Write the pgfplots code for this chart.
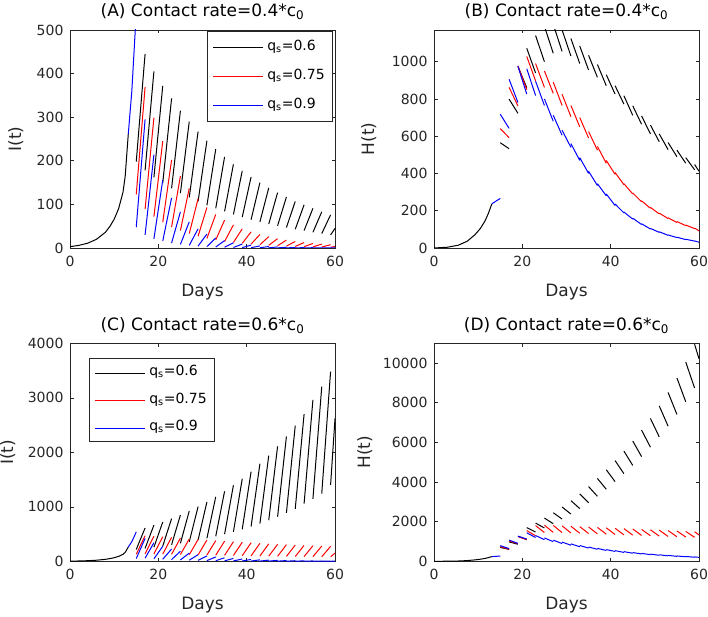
\documentclass[border=0pt]{standalone}
\usepackage{pgfplots}
\pgfplotsset{compat=1.18}
\usepackage{fontspec}
\setmainfont{DejaVu Sans}
\definecolor{mgray}{rgb}{0.15,0.15,0.15}
\definecolor{mred}{rgb}{1,0,0}
\definecolor{mblue}{rgb}{0,0,1}
\definecolor{mblack}{rgb}{0,0,0}
\definecolor{lblack}{rgb}{0.01,0.01,0.01}
\definecolor{lred}{rgb}{0.99,0.01,0.01}
\definecolor{lblue}{rgb}{0.01,0.01,0.99}
\pgfplotsset{
 panel/.style={
  scale only axis, width=265pt, height=218pt,
  xmin=0, xmax=60, xtick={0,20,40,60}, ymin=0,
  axis line style={mgray, line width=0.6pt},
  tick style={mgray, line width=0.6pt},
  major tick length=3.5pt,
  tick align=inside,
  ticklabel style={font=\fontsize{14}{14}\selectfont, text=mgray},
  yticklabel style={xshift=-3pt},
  xticklabel style={yshift=-4.5pt},
  /pgf/number format/assume math mode=true,
  /pgf/number format/set thousands separator={},
  scaled y ticks=false,
  xlabel={Days},
  xlabel style={at={(axis description cs:0.5,0)}, anchor=base, yshift=-48.5pt, font=\fontsize{17}{17}\selectfont, text=mgray},
  title style={at={(axis description cs:0.5,1)}, anchor=base, yshift=7pt, font=\fontsize{17}{17}\selectfont, text=black},
  unbounded coords=jump,
  every axis plot/.append style={line width=1pt},
  legend cell align=left,
  legend style={draw=mgray, line width=0.6pt, font=\fontsize{14}{14}\selectfont,
    inner xsep=6pt, inner ysep=7pt, row sep=11pt, column sep=2pt,
    nodes={inner sep=2pt, text height=10pt, text depth=4pt}},
 }
}
\newcommand{\legendrows}{%
\addlegendimage{legend image code/.code={\node[inner sep=0pt, text height=1pt, text depth=0pt, anchor=west] at (0pt,0pt) {\textcolor{lblack}{\rule[-0.5pt]{50pt}{1pt}}};}}\addlegendentry{q\textsubscript{s}=0.6}
\addlegendimage{legend image code/.code={\node[inner sep=0pt, text height=1pt, text depth=0pt, anchor=west] at (0pt,0pt) {\textcolor{lred}{\rule[-0.5pt]{50pt}{1pt}}};}}\addlegendentry{q\textsubscript{s}=0.75}
\addlegendimage{legend image code/.code={\node[inner sep=0pt, text height=1pt, text depth=0pt, anchor=west] at (0pt,0pt) {\textcolor{lblue}{\rule[-0.5pt]{50pt}{1pt}}};}}\addlegendentry{q\textsubscript{s}=0.9}}
\begin{document}
\begin{tikzpicture}
\useasboundingbox (0,0) rectangle (708pt,616pt);
% ---------------- (A)
\begin{axis}[panel, at={(70pt,368pt)}, anchor=south west,
  ymax=500, ytick={0,100,200,300,400,500},
  title={(A) Contact rate=0.4*c\textsubscript{0}},
  ylabel={I(t)},
  ylabel style={at={(axis description cs:-0.184,0.5)}, anchor=base, font=\fontsize{17}{17}\selectfont, text=mgray},
  legend style={at={(axis description cs:0.9925,0.9955)}, anchor=north east}]
\legendrows
\addplot[mblack, forget plot] coordinates {(0,3) (2,6) (4,11) (6,20) (8,36) (9,49) (10,66) (11,90) (12,128) (12.5,165) (13.2,262)};
\addplot[mblue, forget plot] coordinates {(13.2,262) (14,360) (15,540)};
\addplot[mblack, forget plot] coordinates {
(15,198)(17,445)(17,nan)(17,178)(19,405)(19,nan)(19,162)(21,372)(21,nan)(21,149)(23,343)(23,nan)
(23,137)(25,315)(25,nan)(25,126)(27,290)(27,nan)(27,116)(29,267)(29,nan)(29,107)(31,246)(31,nan)
(31,98)(33,227)(33,nan)(33,91)(35,209)(35,nan)(35,84)(37,192)(37,nan)(37,77)(39,177)(39,nan)
(39,71)(41,163)(41,nan)(41,65)(43,150)(43,nan)(43,60)(45,138)(45,nan)(45,55)(47,127)(47,nan)
(47,51)(49,117)(49,nan)(49,47)(51,107)(51,nan)(51,43)(53,99)(53,nan)(53,40)(55,91)(55,nan)
(55,36)(57,83)(57,nan)(57,33)(59,76)(59,nan)(59,30)(60,45)};
\addplot[mred, forget plot] coordinates {
(15,123)(17,369)(17,nan)(17,89)(19,299)(19,nan)(19,72)(21,245)(21,nan)(21,59)(23,202)(23,nan)
(23,48)(25,165)(25,nan)(25,40)(27,137)(27,nan)(27,33)(29,113)(29,nan)(29,27)(31,93)(31,nan)
(31,22)(33,77)(33,nan)(33,18.5)(35,64)(35,nan)(35,15)(37,53)(37,nan)(37,12.7)(39,44)(39,nan)
(39,10.6)(41,37)(41,nan)(41,8.9)(43,31)(43,nan)(43,7.4)(45,26)(45,nan)(45,6.2)(47,21.5)(47,nan)
(47,5.2)(49,18)(49,nan)(49,4.3)(51,15)(51,nan)(51,3.6)(53,12.5)(53,nan)(53,3)(55,10.5)(55,nan)
(55,2.5)(57,9)(57,nan)(57,2.2)(59,7.5)(59,nan)(59,1.8)(60,3.3)};
\addplot[mblue, forget plot] coordinates {
(15,48)(17,295)(17,nan)(17,30)(19,214)(19,nan)(19,21)(21,156)(21,nan)(21,16)(23,115)(23,nan)
(23,11.5)(25,83)(25,nan)(25,8.3)(27,60)(27,nan)(27,6)(29,44)(29,nan)(29,4.4)(31,32)(31,nan)
(31,3.2)(33,23)(33,nan)(33,2.3)(35,17)(35,nan)(35,1.7)(37,12)(37,nan)(37,1.2)(39,9)(39,nan)
(39,0.9)(41,6.5)(41,nan)(41,0.65)(43,4.7)(43,nan)(43,0.47)(45,3.4)(45,nan)(45,0.34)(47,2.5)(47,nan)
(47,0.25)(49,1.8)(49,nan)(49,0.18)(51,1.3)(51,nan)(51,0.13)(53,0.9)(53,nan)(53,0.09)(55,0.7)(55,nan)
(55,0.07)(57,0.5)(57,nan)(57,0.05)(59,0.35)(59,nan)(59,0.04)(60,0.1)};
\end{axis}
% ---------------- (B)
\begin{axis}[panel, at={(434pt,368pt)}, anchor=south west,
  ymax=1170, ytick={0,200,400,600,800,1000},
  title={(B) Contact rate=0.4*c\textsubscript{0}},
  ylabel={H(t)},
  ylabel style={at={(axis description cs:-0.226,0.5)}, anchor=base, font=\fontsize{17}{17}\selectfont, text=mgray}]
\addplot[mblack] coordinates {(0,0) (3,4) (5.5,15) (7.5,36) (9.3,72) (10.5,105) (11.5,143) (12.3,185) (13.1,237)};
\addplot[mblack] coordinates {
(15,565)(17,533)(17,nan)(17,799)(19,723)(19,nan)(19,975)(21,860)(21,nan)(21,1072)(23,939)(23,nan)
(23,1140)(25,1000)(25,nan)(25,1190)(27,1045)(27,nan)(27,1200)(29,1055)(29,nan)(29,1170)(31,1030)(31,nan)
(31,1124)(33,990)(33,nan)(33,1084)(35,955)(35,nan)(35,1034)(37,916)(37,nan)(37,985)(39,871)(39,nan)
(39,930)(41,826)(41,nan)(41,871)(43,772)(43,nan)(43,817)(45,712)(45,nan)(45,763)(47,664)(47,nan)
(47,709)(49,612)(49,nan)(49,660)(51,570)(51,nan)(51,612)(53,528)(53,nan)(53,566)(55,490)(55,nan)
(55,525)(57,455)(57,nan)(57,485)(59,420)(59,nan)(59,448)(60,412)};
\addplot[mred] coordinates {
(15,641)(17,592)(17,nan)(17,862)(19,763)(19,nan)(19,978)(21,850)(21,nan)(21,1028)(23,897)(23,nan)
(23,990)(25,862)(25,nan)(25,950)(27,830)(27,nan)(27,890)(29,765)(29,nan)(29,825)(31,705)(31,nan)
(31,765)(33,650)(33,nan)(33,700)(35,590)(35,nan)(35,625)(37,525)(37,nan)(37,545)(39,455)(39,nan)
(39,470)(41,395)(41,nan)(41,405)(43,340)(43,nan)(43,345)(45,290)(45,nan)(45,295)(47,248)(47,nan)
(47,253)(49,213)(49,nan)(49,218)(51,183)(51,nan)(51,187)(53,158)(53,nan)(53,162)(55,137)(55,nan)
(55,142)(57,120)(57,nan)(57,123)(59,104)(59,nan)(59,107)(60,92)};
\addplot[mblue] coordinates {
(15,718)(17,642)(17,nan)(17,906)(19,781)(19,nan)(19,975)(21,826)(21,nan)(21,962)(23,818)(23,nan)
(23,895)(25,765)(25,nan)(25,800)(27,680)(27,nan)(27,712)(29,605)(29,nan)(29,632)(31,540)(31,nan)
(31,560)(33,470)(33,nan)(33,485)(35,400)(35,nan)(35,412)(37,335)(37,nan)(37,345)(39,280)(39,nan)
(39,290)(41,228)(41,nan)(41,236)(43,188)(43,nan)(43,193)(45,155)(45,nan)(45,160)(47,126)(47,nan)
(47,130)(49,102)(49,nan)(49,105)(51,84)(51,nan)(51,87)(53,68)(53,nan)(53,70)(55,56)(55,nan)
(55,58)(57,45)(57,nan)(57,47)(59,37)(59,nan)(59,38)(60,31)};
\addplot[mblue] coordinates {(13.1,237) (14,251) (15,266)};
\end{axis}
% ---------------- (C)
\begin{axis}[panel, at={(70pt,54.7pt)}, anchor=south west,
  ymax=4000, ytick={0,1000,2000,3000,4000},
  title={(C) Contact rate=0.6*c\textsubscript{0}},
  title style={yshift=-0.5pt},
  ylabel={I(t)},
  ylabel style={at={(axis description cs:-0.215,0.5)}, anchor=base, font=\fontsize{17}{17}\selectfont, text=mgray},
  legend style={at={(axis description cs:0.0717,0.931)}, anchor=north west, inner ysep=5pt, row sep=9.5pt}]
\legendrows
\addplot[mblack, forget plot] coordinates {(0,3) (2,6) (4,11) (6,20) (8,36) (9,49) (10,66) (11,90) (12,128) (12.5,165) (13.2,262)};
\addplot[mblue, forget plot] coordinates {(13.2,262) (14,360) (15,540)};
\addplot[mblack, forget plot] coordinates {
(15,218)(17,611)(17,nan)(17,237)(19,664)(19,nan)(19,258)(21,721)(21,nan)(21,280)(23,783)(23,nan)
(23,304)(25,850)(25,nan)(25,330)(27,923)(27,nan)(27,358)(29,1003)(29,nan)(29,389)(31,1090)(31,nan)
(31,422)(33,1183)(33,nan)(33,459)(35,1285)(35,nan)(35,498)(37,1395)(37,nan)(37,541)(39,1515)(39,nan)
(39,588)(41,1645)(41,nan)(41,639)(43,1790)(43,nan)(43,693)(45,1940)(45,nan)(45,754)(47,2110)(47,nan)
(47,818)(49,2290)(49,nan)(49,889)(51,2490)(51,nan)(51,964)(53,2700)(53,nan)(53,1058)(55,2962)(55,nan)
(55,1145)(57,3206)(57,nan)(57,1243)(59,3481)(59,nan)(59,1400)(60,2620)};
\addplot[mred, forget plot] coordinates {
(15,130)(17,470)(17,nan)(17,139)(19,460)(19,nan)(19,136)(21,450)(21,nan)(21,133)(23,440)(23,nan)
(23,129)(25,425)(25,nan)(25,124)(27,410)(27,nan)(27,121)(29,400)(29,nan)(29,118)(31,390)(31,nan)
(31,115)(33,380)(33,nan)(33,112)(35,370)(35,nan)(35,109)(37,360)(37,nan)(37,106)(39,350)(39,nan)
(39,103)(41,340)(41,nan)(41,100)(43,330)(43,nan)(43,97)(45,320)(45,nan)(45,95)(47,312)(47,nan)
(47,92)(49,305)(49,nan)(49,90)(51,298)(51,nan)(51,88)(53,292)(53,nan)(53,87)(55,286)(55,nan)
(55,85)(57,280)(57,nan)(57,83)(59,275)(59,nan)(59,82)(60,150)};
\addplot[mblue, forget plot] coordinates {
(15,50)(17,420)(17,nan)(17,57)(19,340)(19,nan)(19,46)(21,275)(21,nan)(21,37)(23,225)(23,nan)
(23,31)(25,185)(25,nan)(25,25)(27,150)(27,nan)(27,20)(29,122)(29,nan)(29,17)(31,100)(31,nan)
(31,13)(33,80)(33,nan)(33,11)(35,65)(35,nan)(35,9)(37,52)(37,nan)(37,7)(39,42)(39,nan)
(39,5.7)(41,34)(41,nan)(41,4.5)(43,27)(43,nan)(43,3.7)(45,22)(45,nan)(45,3)(47,18)(47,nan)
(47,2.3)(49,14)(49,nan)(49,1.8)(51,11)(51,nan)(51,1.5)(53,9)(53,nan)(53,1.2)(55,7)(55,nan)
(55,1)(57,6)(57,nan)(57,0.8)(59,5)(59,nan)(59,0.7)(60,2)};
\end{axis}
% ---------------- (D)
\begin{axis}[panel, at={(434pt,54.7pt)}, anchor=south west,
  ymax=11000, ytick={0,2000,4000,6000,8000,10000},
  title={(D) Contact rate=0.6*c\textsubscript{0}},
  title style={yshift=-0.5pt},
  ylabel={H(t)},
  ylabel style={at={(axis description cs:-0.241,0.5)}, anchor=base, font=\fontsize{17}{17}\selectfont, text=mgray}]
\addplot[mblack] coordinates {(0,0) (3,4) (5.5,15) (7.5,36) (9.3,72) (10.5,105) (11.5,143) (12.3,185) (13.1,237)};
\addplot[mblack] coordinates {
(15,700)(17,600)(17,nan)(17,980)(19,860)(19,nan)(19,1260)(21,1100)(21,nan)(21,1700)(23,1479)(23,nan)
(23,1930)(25,1679)(25,nan)(25,2180)(27,1897)(27,nan)(27,2450)(29,2132)(29,nan)(29,2740)(31,2384)(31,nan)
(31,3060)(33,2662)(33,nan)(33,3400)(35,2958)(35,nan)(35,3770)(37,3280)(37,nan)(37,4180)(39,3637)(39,nan)
(39,4620)(41,4019)(41,nan)(41,5080)(43,4420)(43,nan)(43,5560)(45,4837)(45,nan)(45,6070)(47,5281)(47,nan)
(47,6620)(49,5759)(49,nan)(49,7210)(51,6273)(51,nan)(51,7840)(53,6821)(53,nan)(53,8520)(55,7412)(55,nan)
(55,9250)(57,8048)(57,nan)(57,10050)(59,8744)(59,nan)(59,10950)(60,10220)};
\addplot[mred] coordinates {
(15,740)(17,610)(17,nan)(17,1030)(19,890)(19,nan)(19,1250)(21,1090)(21,nan)(21,1550)(23,1290)(23,nan)
(23,1800)(25,1450)(25,nan)(25,1820)(27,1460)(27,nan)(27,1810)(29,1450)(29,nan)(29,1790)(31,1430)(31,nan)
(31,1770)(33,1415)(33,nan)(33,1750)(35,1400)(35,nan)(35,1730)(37,1385)(37,nan)(37,1710)(39,1370)(39,nan)
(39,1690)(41,1350)(41,nan)(41,1670)(43,1335)(43,nan)(43,1650)(45,1320)(45,nan)(45,1630)(47,1305)(47,nan)
(47,1610)(49,1290)(49,nan)(49,1590)(51,1270)(51,nan)(51,1570)(53,1255)(53,nan)(53,1550)(55,1240)(55,nan)
(55,1530)(57,1225)(57,nan)(57,1510)(59,1210)(59,nan)(59,1490)(60,1330)};
\addplot[mblue] coordinates {
(15,790)(17,640)(17,nan)(17,1070)(19,905)(19,nan)(19,1270)(21,1120)(21,nan)(21,1440)(23,1200)(23,nan)
(23,1300)(25,1090)(25,nan)(25,1180)(27,990)(27,nan)(27,1070)(29,895)(29,nan)(29,970)(31,810)(31,nan)
(31,880)(33,735)(33,nan)(33,797)(35,666)(35,nan)(35,722)(37,604)(37,nan)(37,654)(39,547)(39,nan)
(39,593)(41,496)(41,nan)(41,538)(43,449)(43,nan)(43,487)(45,408)(45,nan)(45,442)(47,370)(47,nan)
(47,400)(49,335)(49,nan)(49,363)(51,303)(51,nan)(51,329)(53,276)(53,nan)(53,298)(55,250)(55,nan)
(55,270)(57,227)(57,nan)(57,245)(59,204)(59,nan)(59,222)(60,200)};
\addplot[mblue] coordinates {(13.1,237) (14,251) (15,266)};
\end{axis}
\end{tikzpicture}
\end{document}
